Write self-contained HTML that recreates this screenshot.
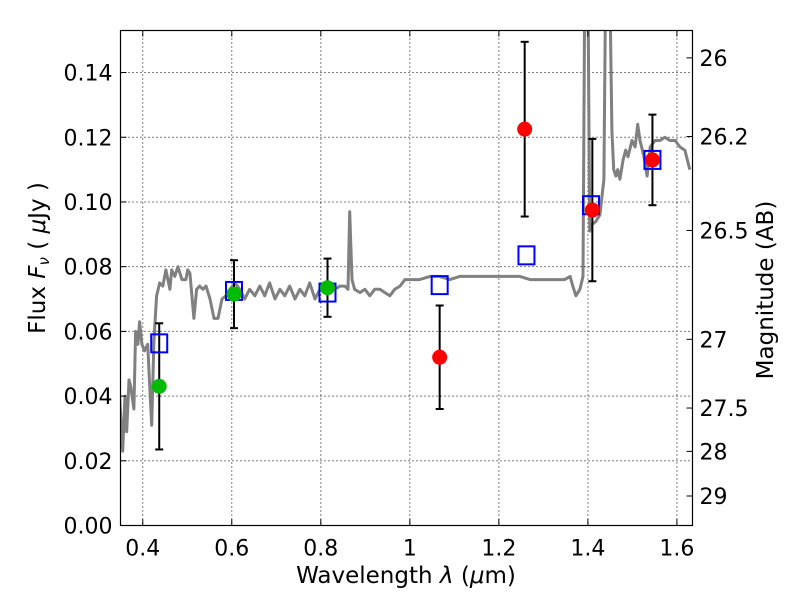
<!DOCTYPE html>
<html><head><meta charset="utf-8"><style>
body{margin:0;background:#fff}
svg text{font-family:"DejaVu Sans","Liberation Sans",sans-serif;fill:#000}
</style></head><body>
<svg id="chart" width="800" height="600" xmlns="http://www.w3.org/2000/svg">
<rect width="800" height="600" fill="#fff"/>
<g id="grid"></g>
<g id="plot"></g>
<rect x="120.5" y="30.5" width="572" height="495" fill="none" stroke="#000" stroke-width="1.2"/>
<g id="axes"></g>
<text x="406" y="583" font-size="23" text-anchor="middle">Wavelength  <tspan font-style="italic">λ</tspan> (<tspan font-style="italic">μ</tspan>m)</text>
<text transform="translate(45,258) rotate(-90)" font-size="23" text-anchor="middle">Flux  <tspan font-style="italic">F<tspan font-size="15" dy="4">ν</tspan></tspan><tspan dy="-4">  (  </tspan><tspan font-style="italic">μ</tspan>Jy )</text>
<text transform="translate(773,290) rotate(-90)" font-size="23" text-anchor="middle">Magnitude (AB)</text>
</svg>
<script>
const xTicks=[0.4,0.6,0.8,1.0,1.2,1.4,1.6];
const xTickLabels=["0.4","0.6","0.8","1","1.2","1.4","1.6"];
const yTicks=[0,0.02,0.04,0.06,0.08,0.10,0.12,0.14];
const yTickLabels=["0.00","0.02","0.04","0.06","0.08","0.10","0.12","0.14"];
const magTicks=[26,26.2,26.5,27,27.5,28,29];
const magTickLabels=["26","26.2","26.5","27","27.5","28","29"];
const specWave=[0.348,0.355,0.360,0.364,0.369,0.373,0.380,0.384,0.389,0.393,0.398,0.404,0.411,0.416,0.420,0.425,0.431,0.438,0.445,0.452,0.461,0.465,0.472,0.479,0.488,0.497,0.501,0.506,0.515,0.521,0.528,0.535,0.542,0.551,0.560,0.569,0.578,0.587,0.596,0.607,0.618,0.629,0.640,0.652,0.663,0.674,0.685,0.697,0.708,0.719,0.730,0.742,0.753,0.764,0.775,0.787,0.798,0.809,0.820,0.831,0.843,0.854,0.861,0.865,0.870,0.876,0.888,0.899,0.910,0.921,0.933,0.944,0.955,0.966,0.978,0.989,1.000,1.022,1.045,1.067,1.090,1.112,1.135,1.157,1.180,1.202,1.225,1.247,1.270,1.292,1.315,1.337,1.348,1.360,1.366,1.373,1.382,1.389,1.393,1.400,1.404,1.409,1.418,1.427,1.436,1.440,1.449,1.454,1.458,1.463,1.467,1.472,1.479,1.485,1.490,1.499,1.506,1.512,1.517,1.526,1.533,1.540,1.551,1.562,1.573,1.584,1.596,1.607,1.618,1.629];
const specFlux=[0.040,0.023,0.040,0.029,0.045,0.043,0.036,0.060,0.056,0.063,0.056,0.054,0.056,0.042,0.031,0.057,0.071,0.075,0.074,0.079,0.073,0.079,0.077,0.080,0.076,0.076,0.079,0.078,0.064,0.073,0.074,0.073,0.074,0.070,0.064,0.064,0.070,0.071,0.073,0.075,0.073,0.070,0.073,0.071,0.074,0.071,0.075,0.070,0.073,0.071,0.074,0.070,0.073,0.071,0.075,0.070,0.073,0.074,0.073,0.073,0.074,0.074,0.073,0.097,0.076,0.073,0.072,0.073,0.071,0.073,0.073,0.072,0.071,0.073,0.074,0.076,0.076,0.076,0.077,0.077,0.076,0.077,0.077,0.077,0.077,0.077,0.077,0.077,0.076,0.076,0.076,0.076,0.076,0.077,0.074,0.071,0.073,0.077,0.17,0.17,0.091,0.093,0.094,0.096,0.107,0.17,0.17,0.122,0.110,0.108,0.110,0.107,0.113,0.116,0.114,0.119,0.117,0.124,0.119,0.114,0.108,0.117,0.119,0.119,0.120,0.119,0.119,0.117,0.116,0.110];
const photWave=[0.437,0.605,0.815,1.067,1.258,1.41,1.545];
const photFlux=[0.043,0.0715,0.0735,0.052,0.1225,0.0975,0.113];
const photErr=[0.0195,0.0105,0.009,0.016,0.027,0.022,0.014];
const photColor=["#00bb00","#00bb00","#00bb00","#ff0000","#ff0000","#ff0000","#ff0000"];
const modelWave=[0.437,0.605,0.815,1.067,1.262,1.407,1.545];
const modelFlux=[0.0563,0.0725,0.072,0.0743,0.0835,0.099,0.113];

const X0=120.5,X1=692.5,Y0=525.5,Y1=30.5;
const xmin=0.35,xmax=1.635,ymin=0,ymax=0.153;
const sx=v=>X0+(v-xmin)/(xmax-xmin)*(X1-X0);
const sy=v=>Y0-(v-ymin)/(ymax-ymin)*(Y0-Y1);
const magToFlux=m=>Math.pow(10,(23.9-m)/2.5);
const NS="http://www.w3.org/2000/svg";
function mk(tag,attrs,parent){const e=document.createElementNS(NS,tag);for(const k in attrs)e.setAttribute(k,attrs[k]);parent.appendChild(e);return e;}
const grid=document.getElementById('grid'),plot=document.getElementById('plot'),axes=document.getElementById('axes');

xTicks.forEach((t,i)=>{const x=sx(t);
 const g=mk('line',{x1:x,x2:x,y1:Y1,y2:Y0,stroke:'#000','stroke-dasharray':'1,3','stroke-width':1},grid);
 
 
 mk('line',{x1:x,x2:x,y1:Y0,y2:Y0-6,stroke:'#000'},axes);
 mk('line',{x1:x,x2:x,y1:Y1,y2:Y1+6,stroke:'#000'},axes);
 const tx=mk('text',{x:x,y:Y0+30,'font-size':22,'text-anchor':'middle'},axes);tx.textContent=xTickLabels[i];
 
 
});
yTicks.forEach((t,i)=>{const y=sy(t);
 const g=mk('line',{x1:X0,x2:X1,y1:y,y2:y,stroke:'#000','stroke-dasharray':'1,3','stroke-width':1},grid);
 
 
 mk('line',{x1:X0,x2:X0+6,y1:y,y2:y,stroke:'#000'},axes);
 const tx=mk('text',{x:X0-8,y:y+8,'font-size':22,'text-anchor':'end'},axes);tx.textContent=yTickLabels[i];
 
 
});
magTicks.forEach((m,i)=>{const y=sy(magToFlux(m));
 mk('line',{x1:X1,x2:X1-6,y1:y,y2:y,stroke:'#000'},axes);
 const tx=mk('text',{x:X1+7,y:y+8,'font-size':22},axes);tx.textContent=magTickLabels[i];
 
 
});
const cp=mk('clipPath',{id:'cp'},plot);mk('rect',{x:X0,y:Y1,width:X1-X0,height:Y0-Y1},cp);
let d='';specWave.forEach((w,i)=>{d+=(i?'L':'M')+sx(w).toFixed(1)+','+sy(specFlux[i]).toFixed(1);});
const sp=mk('path',{d:d,fill:'none',stroke:'#808080','stroke-width':3,'clip-path':'url(#cp)','stroke-linejoin':'round'},plot);


photWave.forEach((w,i)=>{const x=sx(w),yt=sy(photFlux[i]+photErr[i]),yb=sy(photFlux[i]-photErr[i]);
 const g=mk('g',{},plot);
 
 
 mk('line',{x1:x,x2:x,y1:yt,y2:yb,stroke:'#000','stroke-width':2},g);
 mk('line',{x1:x-4,x2:x+4,y1:yt,y2:yt,stroke:'#000','stroke-width':2},g);
 mk('line',{x1:x-4,x2:x+4,y1:yb,y2:yb,stroke:'#000','stroke-width':2},g);
});
modelWave.forEach((w,i)=>{const r=mk('rect',{x:sx(w)-8,y:sy(modelFlux[i])-9,width:16,height:18,fill:'none',stroke:'#0000ff','stroke-width':2},plot);
 
 
});
photWave.forEach((w,i)=>{const c=mk('circle',{cx:sx(w),cy:sy(photFlux[i]),r:7.5,fill:photColor[i]},plot);
 
 
});
</script>
</body></html>
